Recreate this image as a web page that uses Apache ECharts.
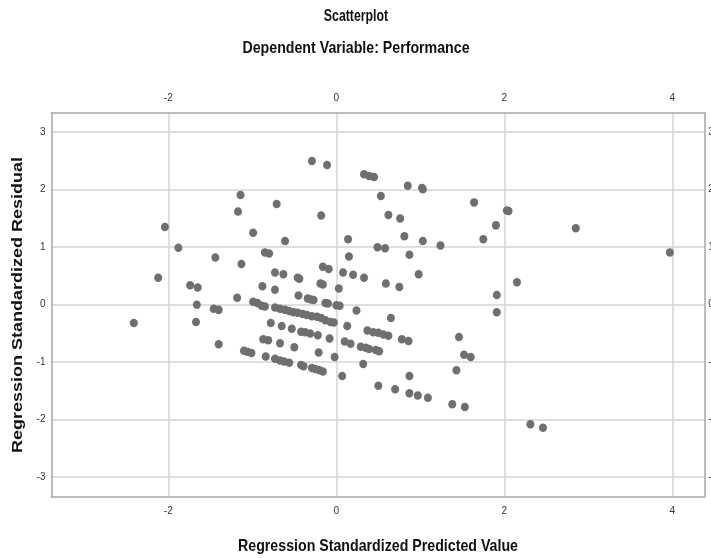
<!DOCTYPE html>
<html>
<head>
<meta charset="utf-8">
<script src="https://cdn.jsdelivr.net/npm/echarts@6/dist/echarts.min.js"></script>
<style>html,body{margin:0;padding:0;background:#fff;}#c{width:711px;height:558px;}</style>
</head>
<body>
<div id="c"></div>
<script>
// Standardized predicted values (x) and standardized residuals (y)
const predicted = [
 -1.14,-1.17,-2.04,-1.88,-0.99,-1.44,-1.13,-2.12,-1.74,-1.65,-1.18,-1.66,-1.46,-1.40,-0.99,-0.94,
 -2.41,-1.67,-1.40,-1.10,-1.06,-1.01,
 -0.29,-0.11,0.33,0.39,0.45,0.85,1.02,1.03,1.64,1.90,1.75,-0.71,-0.18,0.53,0.62,0.76,0.81,1.03,1.24,
 0.14,-0.61,0.49,0.58,0.87,0.15,-0.85,-0.80,-0.16,-0.09,0.08,0.20,0.33,0.98,-0.73,-0.63,-0.46,-0.44,
 -0.88,-0.73,-0.45,-0.34,-0.30,-0.27,-0.19,-0.16,0.59,0.75,0.03,-0.13,-0.10,0.00,0.04,0.24,0.65,1.91,1.91,
 -0.89,-0.85,-0.73,-0.67,-0.61,-0.56,-0.51,-0.46,-0.40,-0.35,-0.29,-0.23,-0.18,-0.13,-0.07,-0.03,
 0.13,0.37,0.44,0.50,0.56,0.62,0.78,0.86,
 -0.78,-0.65,-0.53,-0.42,-0.37,-0.31,-0.22,-0.08,
 -0.87,-0.81,-0.67,-0.50,-0.21,-0.02,
 0.10,0.17,0.29,0.35,0.39,0.47,0.51,0.32,0.07,
 -0.84,-0.73,-0.67,-0.62,-0.56,-0.42,-0.39,-0.29,-0.25,-0.20,-0.16,
 0.50,0.70,0.87,0.87,0.97,1.09,1.38,1.53,1.46,1.52,1.60,1.43,
 2.03,2.05,2.85,3.97,2.15,2.31,2.46
];
const residual = [
 1.91,1.62,1.35,0.99,1.25,0.82,0.71,0.47,0.34,0.30,0.12,0.00,-0.07,-0.09,0.05,0.03,
 -0.32,-0.30,-0.69,-0.80,-0.82,-0.84,
 2.50,2.43,2.27,2.24,2.22,2.07,2.03,2.01,1.78,1.38,1.14,1.75,1.55,1.89,1.56,1.50,1.19,1.11,1.03,
 1.14,1.11,1.00,0.98,0.87,0.84,0.91,0.89,0.66,0.62,0.56,0.52,0.47,0.53,0.56,0.53,0.47,0.45,
 0.32,0.26,0.16,0.11,0.09,0.08,0.37,0.35,0.37,0.31,0.28,0.03,0.02,-0.01,-0.02,-0.10,-0.23,0.17,-0.13,
 -0.02,-0.03,-0.05,-0.07,-0.09,-0.11,-0.13,-0.14,-0.16,-0.18,-0.20,-0.21,-0.23,-0.27,-0.30,-0.31,
 -0.37,-0.45,-0.48,-0.49,-0.52,-0.54,-0.60,-0.63,
 -0.32,-0.37,-0.42,-0.47,-0.48,-0.50,-0.53,-0.59,
 -0.60,-0.62,-0.67,-0.74,-0.83,-0.91,
 -0.64,-0.68,-0.73,-0.75,-0.77,-0.79,-0.81,-1.03,-1.24,
 -0.90,-0.94,-0.97,-0.99,-1.01,-1.05,-1.07,-1.10,-1.12,-1.14,-1.16,
 -1.41,-1.47,-1.24,-1.54,-1.58,-1.62,-1.73,-1.78,-0.56,-0.87,-0.91,-1.14,
 1.64,1.63,1.33,0.91,0.39,-2.08,-2.14
];
const xTicks = [-2, 0, 2, 4];
const yTicks = [-3, -2, -1, 0, 1, 2, 3];
const xRange = [-3.39, 4.38];
const yRange = [-3.34, 3.34];
const titleText = 'Scatterplot';
const subtitleText = 'Dependent Variable: Performance';
const xName = 'Regression Standardized Predicted Value';
const yName = 'Regression Standardized Residual';

const points = predicted.map((v, i) => [v, residual[i]]);
const sans = "'Liberation Sans',Arial,sans-serif";
const frame = { show: true, onZero: false, lineStyle: { color: '#a6a6a6', width: 1.5 } };
const grid = { show: true, lineStyle: { color: '#d4d4d4', width: 1.5 } };
const lbl = (vals, extra) => Object.assign({ customValues: vals, color: '#333', fontFamily: sans, fontSize: 10 }, extra);
const txt = (text, x, y, size, opts) => Object.assign({
  type: 'text', x: x, y: y, silent: true,
  style: { text: text, fontFamily: sans, fontWeight: 'bold', fontSize: size, fill: '#111',
           textAlign: 'center', textVerticalAlign: 'middle', align: 'center', verticalAlign: 'middle' }
}, opts);

const chart = echarts.init(document.getElementById('c'), null, { renderer: 'canvas' });
chart.setOption({
  animation: false,
  backgroundColor: '#fff',
  graphic: [
    txt(titleText, 356, 17, 16, { scaleX: 0.77 }),
    txt(subtitleText, 356, 48, 16.5, { scaleX: 0.86 }),
    txt(xName, 378, 546, 16.5, { scaleX: 0.86 }),
    txt(yName, 18, 305, 18, { rotation: Math.PI / 2, scaleY: 0.84 })
  ],
  grid: { left: 51.5, right: 6.7, top: 112.7, bottom: 61.3, containLabel: false, outerBoundsMode: 'none' },
  xAxis: [
    { type: 'value', position: 'bottom', min: xRange[0], max: xRange[1],
      axisLine: frame, axisTick: { show: false, customValues: xTicks },
      axisLabel: lbl(xTicks, { margin: 10 }), splitLine: grid },
    { type: 'value', position: 'top', min: xRange[0], max: xRange[1],
      axisLine: frame, axisTick: { show: false, customValues: xTicks },
      axisLabel: lbl(xTicks, { margin: 9 }), splitLine: { show: false } }
  ],
  yAxis: [
    { type: 'value', position: 'left', min: yRange[0], max: yRange[1],
      axisLine: frame, axisTick: { show: false, customValues: yTicks },
      axisLabel: lbl(yTicks, { margin: 6 }), splitLine: grid },
    { type: 'value', position: 'right', min: yRange[0], max: yRange[1],
      axisLine: frame, axisTick: { show: false, customValues: yTicks },
      axisLabel: lbl(yTicks, { margin: 4 }), splitLine: { show: false } }
  ],
  series: [{
    type: 'scatter', xAxisIndex: 0, yAxisIndex: 0, data: points,
    symbol: 'circle', symbolSize: [8, 8.5],
    itemStyle: { color: '#6f6f6f', opacity: 1 }
  }]
});
</script>
</body>
</html>
